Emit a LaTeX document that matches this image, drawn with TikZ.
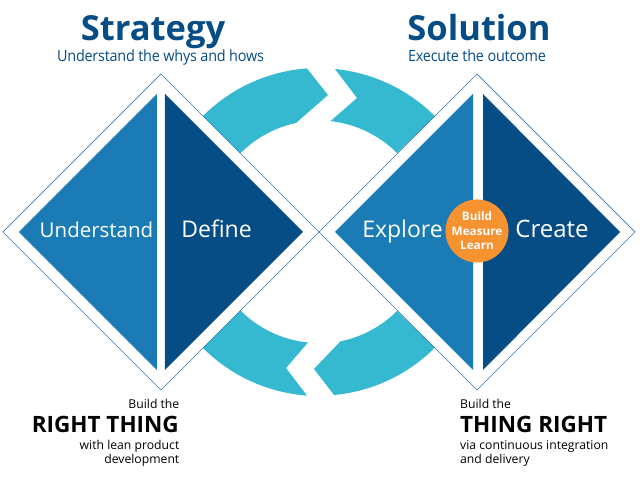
\documentclass[tikz,border=0pt]{standalone}
\usepackage{fontspec}
\setmainfont{Open Sans}
\newfontface\tightface[FakeStretch=0.93, LetterSpace=-1.5]{Open Sans}
\usetikzlibrary{positioning}
\definecolor{navy}{HTML}{064C85}
\definecolor{midblue}{HTML}{1B7BB4}
\definecolor{teal}{HTML}{34B9D1}
\definecolor{amber}{HTML}{F79230}
\definecolor{edgeblue}{HTML}{3B75AE}
\tikzset{
	outline/.style={draw=edgeblue, line width=0.7pt},
	loopflow/.style={fill=teal},
	bigtitle/.style={text=navy, font=\fontsize{34.5}{34.5}\selectfont\bfseries, anchor=base, inner sep=0pt},
	subtitle/.style={text=navy, font=\fontsize{15.5}{15.5}\tightface, anchor=base, inner sep=0pt},
	steplabel/.style={text=white, font=\fontsize{23}{23}\selectfont, anchor=base, inner sep=0pt},
	smallnote/.style={text=black, font=\fontsize{12.2}{12.2}\selectfont, inner sep=0pt},
	bignote/.style={text=black, font=\fontsize{22.5}{22.5}\selectfont\bfseries, inner sep=0pt},
}
\begin{document}
\begin{tikzpicture}[x=1pt, y=1pt]
	\useasboundingbox (-319, -252) rectangle (321, 232);
	% four loop pieces
	\fill[loopflow] (-116, 116) arc[start angle=135, end angle=94.2, radius=164] -- (9, 137) -- (-23, 109) arc[start angle=102, end angle=135, radius=111] --cycle;
	\fill[loopflow] (16, 163) arc[start angle=84.4, end angle=45, radius=164] -- (78, 79) arc[start angle=45, end angle=83.8, radius=111] -- (38, 134) --cycle;
	\fill[loopflow] (-116, -116) arc[start angle=225, end angle=265.8, radius=164] -- (-33, -136) -- (-11, -110.5) arc[start angle=264.3, end angle=225, radius=111] --cycle;
	\fill[loopflow] (15, -163) arc[start angle=275.3, end angle=315, radius=164] -- (78, -79) arc[start angle=315, end angle=281.4, radius=111] -- (-5, -137) --cycle;
	% outer diamonds
	\draw[outline] (-316, 0) -- (-158, 158) -- (0, 0) -- (-158, -158) --cycle;
	\draw[outline] (0, 0) -- (158, 158) -- (316, 0) -- (158, -158) --cycle;
	% triangles
	\fill[midblue] (-300, 0) -- (-162, 138) -- (-162, -138) --cycle;
	\fill[navy] (-154, 138) -- (-16, 0) -- (-154, -138) --cycle;
	\fill[midblue] (16, 0) -- (154, 138) -- (154, -138) --cycle;
	\fill[navy] (164, 138) -- (301, 0) -- (164, -138) --cycle;
	% labels
	\node[steplabel, font=\fontsize{20.5}{20.5}\selectfont] (understand) at (-222.5, -6) {Understand};
	\node[steplabel] (define) at (-102.5, -6) {Define};
	\node[steplabel] (explore) at (83.5, -6) {Explore};
	\node[steplabel, font=\fontsize{24}{24}\selectfont] (create) at (233, -6) {Create};
	\node[circle, fill=amber, minimum size=60.5pt, inner sep=0pt, align=center, text=white, font=\fontsize{11.7}{14.5}\selectfont\bfseries] (build) at (158, 1) {Build\\Measure\\Learn};
	% headings
	\node[bigtitle] (strategy) at (-166, 191) {Strategy};
	\node[subtitle] (whys) at (-158.5, 170) {Understand the whys and hows};
	\node[bigtitle] (solution) at (160, 191) {Solution};
	\node[subtitle] (execute) at (158, 170) {Execute the outcome};
	% notes
	\node[smallnote, anchor=base east] (buildleft) at (-139.5, -177) {Build the};
	\node[bignote, anchor=base east] (rightthing) at (-140, -201) {RIGHT THING};
	\node[smallnote, anchor=base east] (lean) at (-139.5, -218) {with lean product};
	\node[smallnote, anchor=base east] (development) at (-139.5, -231.5) {development};
	\node[smallnote, anchor=base west] (buildright) at (141, -177) {Build the};
	\node[bignote, anchor=base west] (thingright) at (141, -201) {THING RIGHT};
	\node[smallnote, anchor=base west] (continuous) at (141, -218) {via continuous integration};
	\node[smallnote, anchor=base west] (delivery) at (141, -231.5) {and delivery};
\end{tikzpicture}
\end{document}
